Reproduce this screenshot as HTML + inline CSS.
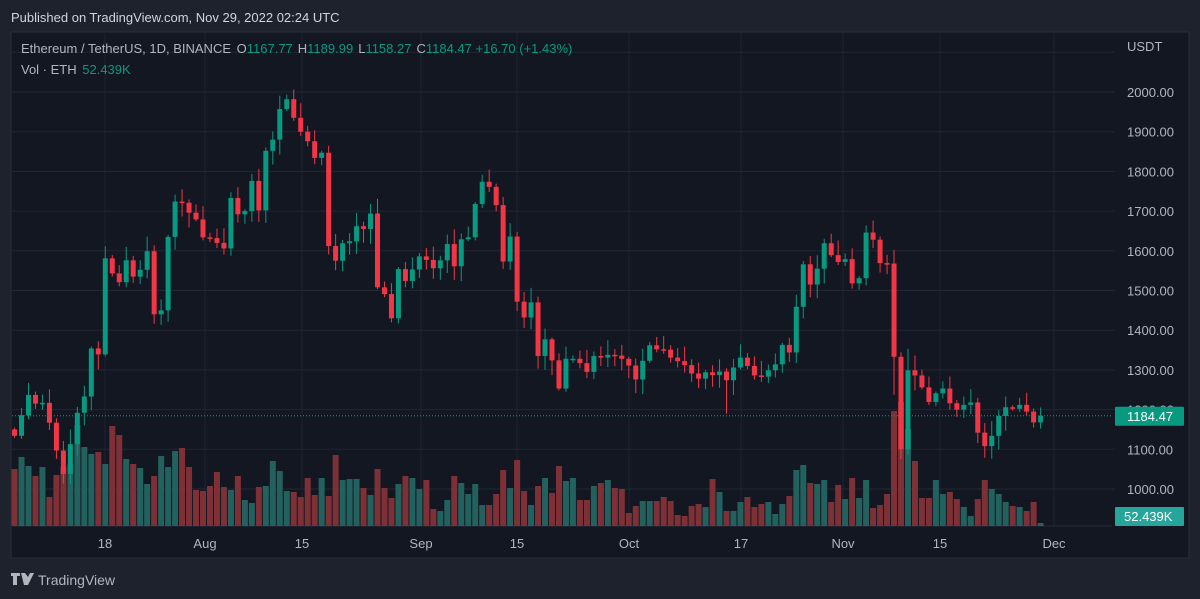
<!DOCTYPE html>
<html><head><meta charset="utf-8"><style>
html,body{margin:0;padding:0;background:#1e222d;width:1200px;height:599px;overflow:hidden;font-family:"Liberation Sans",sans-serif}
svg{position:absolute;left:0;top:0}
</style></head><body>
<svg id="s" width="1200" height="599" xmlns="http://www.w3.org/2000/svg"></svg>
<script>
var C=[1134,1186,1237,1215,1217,1167,1097,1038,1113,1192,1233,1354,1339,1581,1543,1521,1576,1535,1552,1599,1440,1450,1635,1724,1721,1696,1679,
1634,1632,1620,1606,1733,1692,1700,1776,1702,1852,1880,1957,1982,1935,1900,1876,1834,1847,1612,1575,1619,1624,1662,1655,1694,1508,1491,1430,1554,1524,1553,
1586,1577,1556,1576,1617,1561,1629,1634,1718,1774,1761,1715,1573,1636,1472,1432,1470,1335,1377,1324,1253,1328,1328,1317,1295,1335,1331,1338,1336,1328,
1311,1276,1323,1362,1352,1351,1331,1322,1312,1291,1278,1294,1287,1296,1274,1306,1331,1310,1286,1283,1299,1314,1363,1344,1459,1566,1515,1555,1619,1589,1572,
1579,1518,1531,1646,1628,1569,1568,1333,1100,1299,1286,1256,1219,1241,1253,1216,1200,1212,1218,1142,1108,1134,1184,1206,1202,1212,1195,1167.77,1184.47];
var V=[57,69,60,50,59,29,51,59,62,101,79,72,74,62,100,91,67,62,58,42,50,70,59,75,78,59,36,35,40,54,39,36,50,26,23,39,40,65,55,35,34,29,48,31,48,30,71,46,
47,47,38,31,57,38,28,42,50,48,37,46,17,15,26,50,43,32,42,21,21,32,56,38,66,35,21,40,48,33,60,45,48,26,26,40,43,46,38,37,13,20,25,25,25,29,25,11,10,20,22,19,47,34,15,15,24,29,19,
22,24,12,22,30,56,61,43,42,46,24,41,27,48,28,46,18,21,32,115,124,97,65,28,28,46,32,34,27,19,10,27,46,37,32,24,20,19,15,24,3];
var s=document.getElementById('s'),h='';
function Y(p){return 92+(2000-p)*0.397}
function X(d){return 203+d*6.98}
h+='<rect x="11" y="32" width="1178" height="526" fill="#131722" stroke="#2a2e39"/>';
h+='<rect x="1112" y="33" width="76" height="524" fill="#131722"/>';
var xl=[[105,'18'],[205,'Aug'],[302,'15'],[421,'Sep'],[517,'15'],[629,'Oct'],[741,'17'],[843,'Nov'],[940,'15'],[1054,'Dec']];
xl.forEach(function(a){h+='<line x1="'+a[0]+'" y1="33" x2="'+a[0]+'" y2="526" stroke="#1f2330"/>';});
for(var p=1000;p<=2100;p+=100){var y=Y(p);h+='<line x1="12" y1="'+y+'" x2="1115" y2="'+y+'" stroke="#232733"/>';
 if(p<=2000)h+='<text x="1127" y="'+(y+5)+'" fill="#b2b5be" font-size="13">'+p+'.00</text>';}
h+='<line x1="12" y1="526" x2="1112" y2="526" stroke="#2a2e39"/>';
h+='<text x="1127" y="51" fill="#b2b5be" font-size="13">USDT</text>';
xl.forEach(function(a){h+='<text x="'+a[0]+'" y="548" fill="#b2b5be" font-size="13" text-anchor="middle">'+a[1]+'</text>';});
var N=C.length,prev=1150;
for(var i=0;i<N;i++){var d=i-27,x=X(d);if(x<12){prev=C[i];continue;}
 var up=C[i]>=prev,col=up?'#22615e':'#7d3136';
 h+='<rect x="'+(x-3)+'" y="'+(526-V[i])+'" width="6" height="'+V[i]+'" fill="'+col+'"/>';prev=C[i];}
prev=1150;
for(var i=0;i<N;i++){var d=i-27,x=X(d),o=prev,c=C[i];prev=c;if(x<12)continue;
 var up=c>=o,col=up?'#089981':'#f23645';
 var r1=((i*37)%11)/11,r2=((i*53)%13)/13;
 var hi=Math.max(o,c)+(5+r1*35),lo=Math.min(o,c)-(5+r2*35);
 if(d==99){lo=1237;}if(d==100){lo=1075;}if(d==101){hi=1353;lo=1085;}if(d==75){lo=1190}
 var yt=Y(Math.max(o,c)),yb=Y(Math.min(o,c));if(yb-yt<1.5)yb=yt+1.5;
 h+='<line x1="'+x+'" y1="'+Y(hi)+'" x2="'+x+'" y2="'+Y(lo)+'" stroke="'+col+'"/>';
 h+='<rect x="'+(x-2.5)+'" y="'+yt+'" width="5" height="'+(yb-yt)+'" fill="'+col+'"/>';}
var yl=Y(1184.47);
h+='<line x1="12" y1="'+yl+'" x2="1112" y2="'+yl+'" stroke="#089981" stroke-dasharray="1,2"/>';
h+='<rect x="1115" y="'+(yl-9)+'" width="69" height="19" fill="#089981" rx="1"/><text x="1127" y="'+(yl+5)+'" fill="#fff" font-size="13">1184.47</text>';
h+='<rect x="1115" y="507" width="69" height="19" fill="#26a69a" rx="1"/><text x="1124" y="521" fill="#fff" font-size="13">52.439K</text>';
h+='<text x="11" y="22" fill="#d1d4dc" font-size="13">Published on TradingView.com, Nov 29, 2022 02:24 UTC</text>';
h+='<text x="21" y="53" font-size="13" fill="#b2b5be">Ethereum / TetherUS, 1D, BINANCE <tspan dx="2">O</tspan><tspan fill="#089981">1167.77</tspan><tspan dx="5">H</tspan><tspan fill="#089981">1189.99</tspan><tspan dx="5">L</tspan><tspan fill="#089981">1158.27</tspan><tspan dx="5">C</tspan><tspan fill="#089981">1184.47 +16.70 (+1.43%)</tspan></text>';
h+='<text x="21" y="74" font-size="13" fill="#b2b5be">Vol · ETH <tspan fill="#089981" dx="2">52.439K</tspan></text>';
h+='<path d="M11 573h9v3h-3v9h-4v-9h-2z M21 573h4l3 4 2-4h4l-6 12h-4z" fill="#b2b5be"/>';
h+='<text x="38" y="585" fill="#b2b5be" font-size="14">TradingView</text>';
s.innerHTML=h;
</script>
</body></html>
